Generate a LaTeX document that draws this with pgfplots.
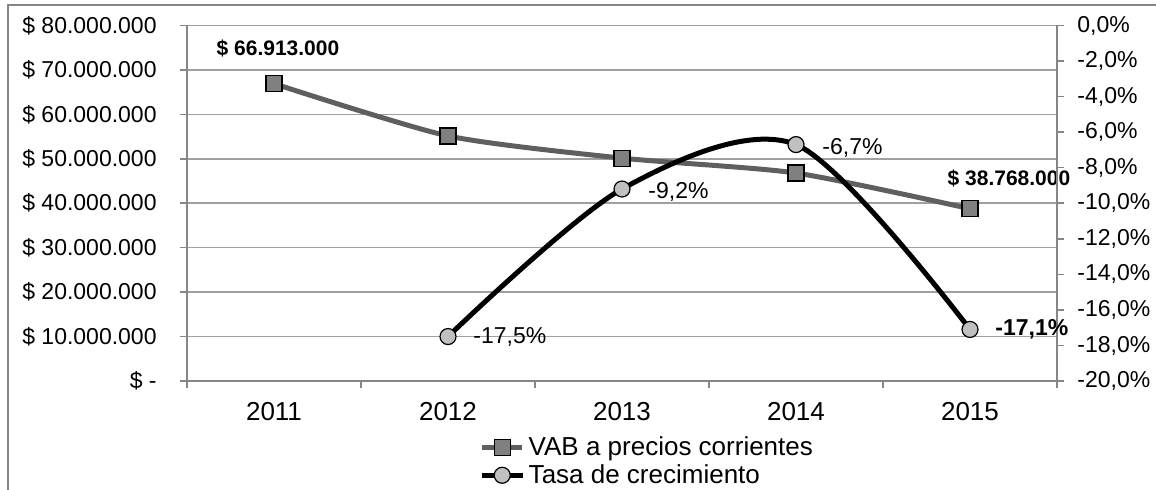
\documentclass[border=0pt]{standalone}
\usepackage{fontspec}
\setmainfont{Liberation Sans}
\usepackage{pgfplots}
\pgfplotsset{compat=1.18}
\definecolor{gridc}{HTML}{A0A0A0}
\definecolor{axc}{HTML}{868686}
\definecolor{vabline}{HTML}{5F5F5F}
\definecolor{vabfill}{HTML}{808080}
\definecolor{tasafill}{HTML}{C0C0C0}
\begin{document}
\begin{tikzpicture}
\useasboundingbox (0,0) rectangle (578pt,-245pt);
\draw[axc, line width=0.8pt] (4pt,-246pt) -- (4pt,-2.5pt) -- (579pt,-2.5pt);
\pgfplotsset{
  base/.style={
    scale only axis, width=435pt, height=177.75pt,
    at={(93.5pt,-190.5pt)}, anchor=south west,
    xmin=-0.5, xmax=4.5, clip=false,
    font=\fontsize{11.5}{13.5}\selectfont,
    axis line style={axc, line width=0.8pt, -},
    tick style={axc, line width=0.8pt},
    major tick length=3.5pt, tick align=outside,
  }
}
\begin{axis}[base,
  ymin=0, ymax=80000000,
  axis x line*=bottom, axis y line*=left,
  xtick={-0.5,0.5,1.5,2.5,3.5,4.5},
  x tick label as interval,
  xticklabels={2011,2012,2013,2014,2015},
  ytick={0,10000000,20000000,30000000,40000000,50000000,60000000,70000000,80000000},
  yticklabels={\$ -\hspace{6pt},\$ 10.000.000,\$ 20.000.000,\$ 30.000.000,\$ 40.000.000,\$ 50.000.000,\$ 60.000.000,\$ 70.000.000,\$ 80.000.000},
  scaled y ticks=false,
  ymajorgrids, grid style={gridc, line width=0.8pt},
  yticklabel style={inner sep=0pt, xshift=-11.5pt},
  xticklabel style={inner sep=0pt, yshift=-7pt, font=\fontsize{13}{15}\selectfont},
]
\addplot[vabline, line width=2.5pt, smooth, tension=0.4, mark=square*, mark size=4pt,
  mark options={fill=vabfill, draw=black, line width=0.6pt}]
  coordinates {(0,66913000) (1,55150000) (2,50150000) (3,46800000) (4,38768000)};
\node[font=\fontsize{10.5}{12}\selectfont\bfseries] at (axis cs:0,66913000) [xshift=2pt, yshift=17.5pt] {\$ 66.913.000};
\node[font=\fontsize{10.5}{12}\selectfont\bfseries] at (axis cs:4,38768000) [xshift=19.5pt, yshift=15pt] {\$ 38.768.000};
\end{axis}
\begin{axis}[base,
  ymin=-20, ymax=0,
  axis y line*=right, axis x line=none,
  ytick={-20,-18,-16,-14,-12,-10,-8,-6,-4,-2,0},
  yticklabels={{-20,0\%},{-18,0\%},{-16,0\%},{-14,0\%},{-12,0\%},{-10,0\%},{-8,0\%},{-6,0\%},{-4,0\%},{-2,0\%},{0,0\%}},
  yticklabel style={anchor=west, inner sep=0pt, xshift=6.5pt},
  legend style={draw=none, fill=none, at={(0.336,-0.226)}, anchor=west,
    font=\fontsize{13}{15}\selectfont, row sep=-1pt, inner sep=0pt},
  legend cell align=left,
  legend image code/.code={\draw[mark repeat=2,mark phase=2] plot coordinates {(0pt,0pt)(10pt,0pt)(20pt,0pt)};},
]
\addlegendimage{vabline, line width=2.5pt, mark=square*, mark size=4pt,
  mark options={fill=vabfill, draw=black, line width=0.6pt}}
\addlegendentry{VAB a precios corrientes}
\addplot[black, line width=2.5pt, smooth, mark=*, mark size=4pt,
  mark options={fill=tasafill, draw=black, line width=0.6pt}]
  coordinates {(1,-17.5) (2,-9.2) (3,-6.7) (4,-17.1)};
\addlegendentry{Tasa de crecimiento}
\node[anchor=west, inner sep=0pt] at (axis cs:1,-17.5) [xshift=12.5pt] {-17,5\%};
\node[anchor=west, inner sep=0pt] at (axis cs:2,-9.2) [xshift=13pt, yshift=-1.5pt] {-9,2\%};
\node[anchor=west, inner sep=0pt] at (axis cs:3,-6.7) [xshift=13pt, yshift=-1.5pt] {-6,7\%};
\node[anchor=west, inner sep=0pt, font=\fontsize{11.5}{13.5}\selectfont\bfseries] at (axis cs:4,-17.1) [xshift=12.5pt] {-17,1\%};
\end{axis}
\end{tikzpicture}
\end{document}
